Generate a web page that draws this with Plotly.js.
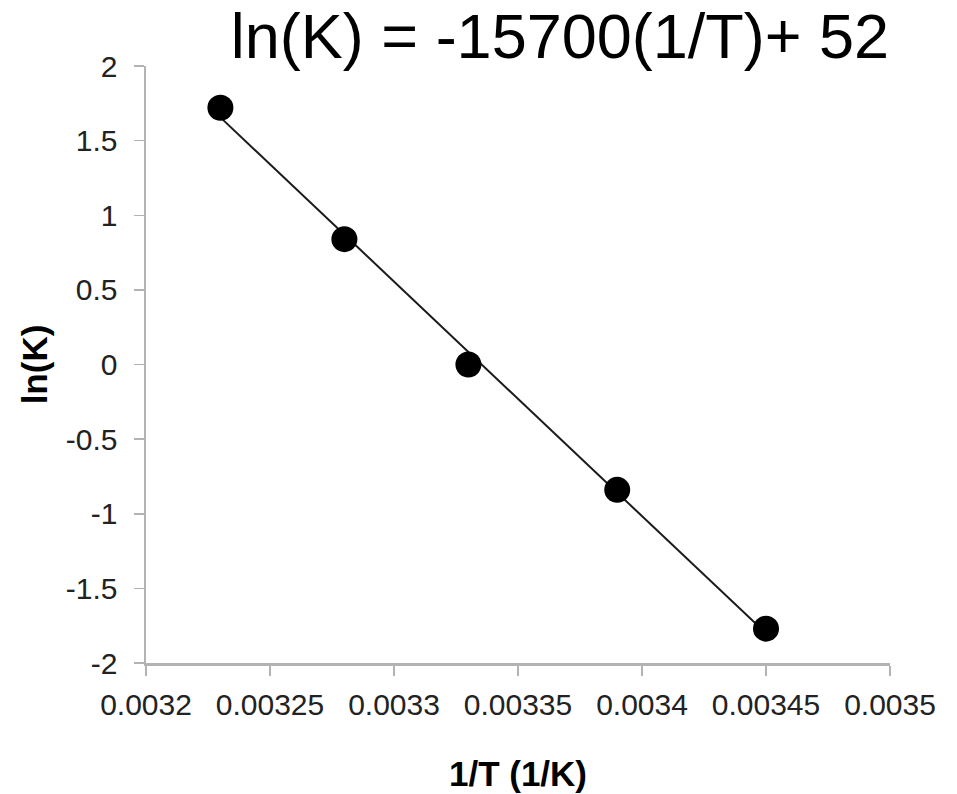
<!DOCTYPE html>
<html>
<head>
<meta charset="utf-8">
<script src="https://cdn.plot.ly/plotly-3.0.1.min.js"></script>
<style>html,body{margin:0;padding:0;background:#fff;}#chart{width:957px;height:794px;}</style>
</head>
<body>
<div id="chart"></div>
<script>
// Data
const invT = [0.00323, 0.00328, 0.00333, 0.00339, 0.00345];
const lnK = [1.72, 0.84, 0.0, -0.84, -1.77];
const xTickVals = [0.0032, 0.00325, 0.0033, 0.00335, 0.0034, 0.00345, 0.0035];
const xTickText = ["0.0032", "0.00325", "0.0033", "0.00335", "0.0034", "0.00345", "0.0035"];
const yTickVals = [-2, -1.5, -1, -0.5, 0, 0.5, 1, 1.5, 2];
const yTickText = ["-2", "-1.5", "-1", "-0.5", "0", "0.5", "1", "1.5", "2"];
const titleText = "ln(K) = -15700(1/T)+ 52";

// Least squares trendline through the points
const n = invT.length;
const mx = invT.reduce((a, b) => a + b, 0) / n;
const my = lnK.reduce((a, b) => a + b, 0) / n;
let sxy = 0, sxx = 0;
for (let i = 0; i < n; i++) { sxy += (invT[i] - mx) * (lnK[i] - my); sxx += (invT[i] - mx) ** 2; }
const slope = sxy / sxx, icpt = my - slope * mx;
const fitX = [Math.min(...invT), Math.max(...invT)];
const fitY = fitX.map(x => icpt + slope * x);

const font = "Liberation Sans, Arial, Helvetica, sans-serif";
const axisCol = "#b3b3b3";

const traces = [
  {x: fitX, y: fitY, mode: "lines", line: {color: "#1a1a1a", width: 2}, hoverinfo: "skip", showlegend: false},
  {x: invT, y: lnK, mode: "markers", marker: {color: "#000", size: 26, line: {width: 0}}, showlegend: false}
];

const layout = {
  width: 957, height: 794,
  margin: {l: 146, r: 67, t: 66, b: 131},
  paper_bgcolor: "#fff", plot_bgcolor: "#fff",
  font: {family: font, color: "#222"},
  showlegend: false,
  title: {text: titleText, font: {family: font, size: 63, color: "#000"},
          x: (560 - 146) / 744, xanchor: "center", xref: "paper", y: 1 - 36 / 794, yanchor: "middle"},
  xaxis: {
    range: [0.0032, 0.0035], tickvals: xTickVals, ticktext: xTickText,
    showgrid: false, zeroline: false, showline: true, linecolor: axisCol, linewidth: 2.5,
    ticks: "outside", ticklen: 10, tickwidth: 1.5, tickcolor: axisCol,
    tickfont: {size: 30, color: "#222"}, ticklabelstandoff: 3,
    title: {text: "<b>1/T (1/K)</b>", font: {size: 35, color: "#000"}, standoff: 42}
  },
  yaxis: {
    range: [-2, 2], tickvals: yTickVals, ticktext: yTickText,
    showgrid: false, zeroline: false, showline: true, linecolor: axisCol, linewidth: 2.5,
    ticks: "outside", ticklen: 10, tickwidth: 1.5, tickcolor: axisCol,
    tickfont: {size: 30, color: "#222"}, ticklabelstandoff: 10,
    title: {text: "<b>ln(K)</b>", font: {size: 35, color: "#000"}, standoff: 8}
  }
};

Plotly.newPlot("chart", traces, layout, {displayModeBar: false, staticPlot: true});
</script>
</body>
</html>
